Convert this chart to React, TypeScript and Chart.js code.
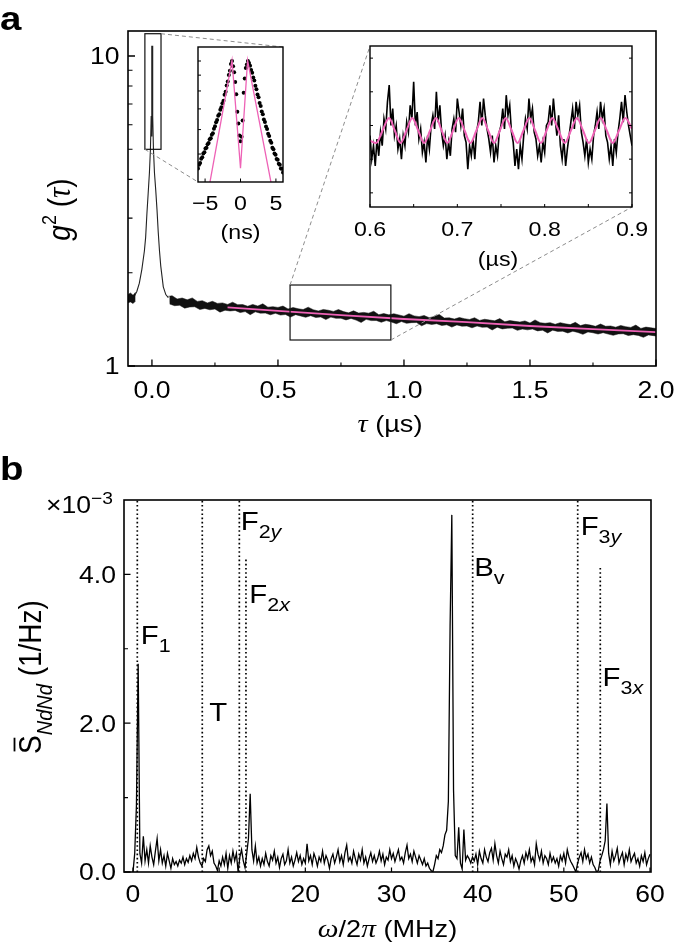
import React, { useEffect, useRef } from 'react';
import { Chart, registerables } from 'chart.js';

Chart.register(...registerables);

const SANS = '"Liberation Sans", Arial, Helvetica, sans-serif';
const SERIF = '"Liberation Serif", "Times New Roman", serif';
const SX = 1.13;
const PINK = '#ee62b6';
const GRAYDASH = '#8c8c8c';

// ---------------- panel a : main g2 trace ----------------
const MAIN_X_MAJOR = [0, 0.5, 1.0, 1.5, 2.0];
const MAIN_X_LABELS = ['0.0', '0.5', '1.0', '1.5', '2.0'];
const MAIN_X_MINOR = [0.25, 0.75, 1.25, 1.75];
const MAIN_Y_MAJOR = [1, 10];
const MAIN_Y_LABELS = ['1', '10'];
const MAIN_Y_MINOR = [2, 3, 4, 5, 6, 7, 8, 9];

// noise band of the measured trace: local maxima / minima read every 0.02 us
const BAND_T0 = 0.06;
const BAND_DT = 0.02;
const BAND_UPPER = [
  1.675, 1.685, 1.645, 1.657, 1.635, 1.658, 1.616, 1.624, 1.598, 1.617,
  1.592, 1.598, 1.580, 1.606, 1.577, 1.578, 1.559, 1.580, 1.561, 1.587,
  1.548, 1.554, 1.545, 1.561, 1.528, 1.544, 1.530, 1.521, 1.548, 1.519,
  1.505, 1.522, 1.513, 1.500, 1.521, 1.498, 1.484, 1.506, 1.482, 1.489,
  1.481, 1.502, 1.464, 1.476, 1.462, 1.474, 1.461, 1.448, 1.475, 1.451,
  1.443, 1.455, 1.432, 1.444, 1.466, 1.428, 1.430, 1.417, 1.434, 1.421,
  1.413, 1.431, 1.403, 1.415, 1.407, 1.399, 1.422, 1.389, 1.401, 1.393,
  1.386, 1.398, 1.376, 1.408, 1.380, 1.373, 1.380, 1.363, 1.380, 1.368,
  1.360, 1.383, 1.350, 1.363, 1.355, 1.343, 1.366, 1.343, 1.346, 1.334,
  1.351, 1.339, 1.332, 1.355, 1.322, 1.335, 1.328, 1.321,
];
const BAND_LOWER = [
  1.585, 1.565, 1.570, 1.537, 1.550, 1.553, 1.521, 1.534, 1.518, 1.527,
  1.492, 1.513, 1.505, 1.511, 1.487, 1.498, 1.464, 1.495, 1.481, 1.482,
  1.463, 1.479, 1.460, 1.466, 1.438, 1.464, 1.450, 1.436, 1.453, 1.434,
  1.440, 1.412, 1.438, 1.425, 1.426, 1.408, 1.424, 1.406, 1.382, 1.414,
  1.401, 1.402, 1.384, 1.401, 1.387, 1.369, 1.391, 1.373, 1.380, 1.381,
  1.348, 1.370, 1.362, 1.369, 1.351, 1.358, 1.335, 1.357, 1.344, 1.346,
  1.328, 1.346, 1.333, 1.335, 1.307, 1.334, 1.317, 1.324, 1.326, 1.303,
  1.316, 1.308, 1.316, 1.298, 1.305, 1.278, 1.305, 1.293, 1.295, 1.278,
  1.295, 1.283, 1.265, 1.288, 1.280, 1.268, 1.281, 1.268, 1.256, 1.269,
  1.271, 1.254, 1.262, 1.255, 1.237, 1.260, 1.253, 1.246,
];
const BAND_L_T = [-0.095, -0.085, -0.075, -0.065];
const BAND_L_UPPER = [1.7, 1.72, 1.69, 1.73];
const BAND_L_LOWER = [1.6, 1.61, 1.59, 1.62];

const SPIKE_T = [-0.07, -0.06, -0.05, -0.04, -0.03, -0.025, -0.02, -0.015, -0.01, -0.006, -0.003, -0.0013, 0,
  0.0013, 0.003, 0.006, 0.01, 0.015, 0.02, 0.025, 0.03, 0.035, 0.045, 0.055, 0.065];
const SPIKE_G = [1.68, 1.74, 1.85, 2.05, 2.35, 2.6, 3.1, 3.6, 4.2, 5.0, 6.4, 10.8, 5.5,
  10.8, 6.4, 5.0, 4.2, 3.7, 3.2, 2.7, 2.35, 2.1, 1.8, 1.7, 1.66];

const FIT_T = [0.3, 0.5, 0.75, 1.0, 1.25, 1.5, 1.75, 2.0];
const FIT_G = [1.545, 1.505, 1.46, 1.418, 1.385, 1.346, 1.315, 1.286];

const ZOOM1_T = [-0.028, 0.036];
const ZOOM1_G = [5.0, 11.8];
const ZOOM2_T = [0.548, 0.948];
const ZOOM2_G = [1.213, 1.825];

// ---------------- inset 1 (ns) ----------------
const IN1_X0 = -6;
const IN1_DX = 0.15;
const IN1_G = [
  4.49, 4.62, 4.68, 4.83, 4.88, 5.02, 5.07, 5.21, 5.24, 5.38,
  5.43, 5.58, 5.62, 5.77, 5.84, 6.04, 6.15, 6.34, 6.44, 6.65,
  6.73, 6.96, 7.08, 7.30, 7.44, 7.78, 7.95, 8.33, 8.58, 9.01,
  9.30, 9.78, 10.0, 9.62, 9.20, 8.55, 7.80, 6.85, 6.28, 5.74,
  5.50, 5.69, 6.42, 7.90, 8.78, 9.49, 9.74, 10.0, 9.86, 9.66,
  9.35, 9.16, 8.84, 8.65, 8.31, 8.11, 7.79, 7.63, 7.32, 7.15,
  6.87, 6.72, 6.47, 6.35, 6.14, 6.03, 5.82, 5.72, 5.52, 5.44,
  5.24, 5.18, 5.02, 4.97, 4.82, 4.79, 4.65, 4.62, 4.49, 4.48, 4.36,
];
const IN1_FIT_X = [-4.5, -1.2, 0, 1.0, 4.5];
const IN1_FIT_G = [3.84, 10.05, 4.5, 10.05, 3.84];
const IN1_X_TICKS = [-5, 0, 5];
const IN1_X_LABELS = ['\u22125', '0', '5'];
const IN1_Y_TICKS = [5, 6, 7, 8, 9, 10];

// ---------------- inset 2 (us) ----------------
const IN2_X0 = 0.6;
const IN2_DX = 0.002;
const IN2_G = [
  1.47, 1.40, 1.44, 1.38, 1.46, 1.41, 1.48, 1.44,
  1.52, 1.49, 1.57, 1.62, 1.50, 1.55, 1.47,
  1.50, 1.43, 1.46, 1.40, 1.47, 1.44, 1.51,
  1.48, 1.56, 1.52, 1.63, 1.50, 1.54, 1.46,
  1.49, 1.42, 1.45, 1.39, 1.47, 1.43, 1.50,
  1.53, 1.49, 1.60, 1.51, 1.56, 1.48,
  1.44, 1.47, 1.40, 1.45, 1.41, 1.49,
  1.52, 1.48, 1.58, 1.54, 1.50, 1.55, 1.47,
  1.45, 1.37, 1.44, 1.41, 1.46, 1.40, 1.48,
  1.51, 1.57, 1.50, 1.58, 1.53, 1.49,
  1.46, 1.42, 1.47, 1.39, 1.44, 1.41, 1.48,
  1.50, 1.55, 1.49, 1.59, 1.53, 1.56, 1.48,
  1.45, 1.38, 1.43, 1.37, 1.44, 1.40, 1.47,
  1.52, 1.49, 1.58, 1.52, 1.55, 1.48,
  1.46, 1.41, 1.44, 1.39, 1.45, 1.42, 1.50,
  1.51, 1.56, 1.50, 1.58, 1.52, 1.47, 1.53,
  1.44, 1.40, 1.46, 1.38, 1.43, 1.47,
  1.51, 1.55, 1.49, 1.57, 1.53, 1.56, 1.48,
  1.45, 1.41, 1.46, 1.39, 1.43, 1.40, 1.47,
  1.50, 1.54, 1.49, 1.57, 1.52, 1.55, 1.47,
  1.45, 1.40, 1.44, 1.38, 1.46, 1.42, 1.48,
  1.52, 1.57, 1.51, 1.59, 1.54, 1.50, 1.47, 1.44,
];
const IN2_FIT_X = [0.6, 0.607, 0.6144, 0.6218, 0.6284, 0.635, 0.6417, 0.6484, 0.6552, 0.662, 0.6688, 0.6756,
  0.6821, 0.6886, 0.6951, 0.7016, 0.7083, 0.715, 0.7218, 0.7286, 0.7353, 0.742, 0.7487, 0.7554, 0.7622,
  0.769, 0.7757, 0.7825, 0.7891, 0.7957, 0.8022, 0.8088, 0.8159, 0.823, 0.83, 0.8371, 0.8439, 0.8507,
  0.8575, 0.8642, 0.8711, 0.878, 0.8851, 0.8923, 0.9];
const IN2_FIT_G = [1.455, 1.448, 1.485, 1.522, 1.485, 1.448, 1.485, 1.522, 1.485, 1.448, 1.485, 1.522,
  1.485, 1.448, 1.485, 1.522, 1.485, 1.448, 1.485, 1.522, 1.485, 1.448, 1.485, 1.522, 1.485,
  1.448, 1.485, 1.522, 1.485, 1.448, 1.485, 1.522, 1.485, 1.448, 1.485, 1.522, 1.485, 1.448,
  1.485, 1.522, 1.485, 1.448, 1.485, 1.522, 1.49];
const IN2_X_TICKS = [0.6, 0.65, 0.7, 0.75, 0.8, 0.85, 0.9];
const IN2_X_LABELED = [0.6, 0.7, 0.8, 0.9];
const IN2_X_LABELS = ['0.6', '0.7', '0.8', '0.9'];
const IN2_Y_TICKS = [1.3, 1.4, 1.5, 1.6, 1.7];

// ---------------- panel b : spectrum ----------------
const SPEC_X0 = 0;
const SPEC_DX = 0.2;
const SPEC_Y = [
  0.00, 0.25, 0.90, 2.80, 0.25, 0.12, 0.48, 0.15, 0.30, 0.12,
  0.35, 0.20, 0.10, 0.28, 0.45, 0.15, 0.30, 0.12, 0.22, 0.08,
  0.25, 0.15, 0.05, 0.18, 0.10, 0.14, 0.08, 0.16, 0.12, 0.20,
  0.10, 0.18, 0.13, 0.22, 0.15, 0.25, 0.18, 0.33, 0.20, 0.12,
  0.08, 0.18, 0.14, 0.30, 0.35, 0.22, 0.28, 0.12, 0.08, 0.02,
  0.15, 0.08, 0.20, 0.10, 0.25, 0.05, 0.22, 0.12, 0.28, 0.15,
  0.25, 0.00, 0.20, 0.30, 0.15, 0.06, 0.25, 0.45, 1.05, 0.30,
  0.15, 0.35, 0.12, 0.20, 0.08,
  // 15.0 - 19.8
  0.18, 0.10, 0.25, 0.14, 0.08, 0.22, 0.16, 0.28, 0.12, 0.20, 0.06, 0.18, 0.24, 0.10, 0.15, 0.30, 0.12, 0.20, 0.08, 0.16, 0.26, 0.14, 0.22, 0.10, 0.18,
  // 20.0 - 24.8
  0.12, 0.38, 0.15, 0.22, 0.10, 0.25, 0.18, 0.08, 0.20, 0.14, 0.28, 0.12, 0.22, 0.16, 0.05, 0.18, 0.24, 0.12, 0.20, 0.30, 0.14, 0.22, 0.10, 0.26, 0.36,
  // 25.0 - 29.8
  0.15, 0.20, 0.12, 0.28, 0.18, 0.10, 0.24, 0.16, 0.30, 0.12, 0.20, 0.08, 0.18, 0.26, 0.14, 0.22, 0.12, 0.18, 0.28, 0.15, 0.24, 0.10, 0.20, 0.16, 0.30,
  // 30.0 - 34.8
  0.18, 0.25, 0.14, 0.22, 0.30, 0.16, 0.20, 0.12, 0.26, 0.36, 0.18, 0.24, 0.14, 0.28, 0.20, 0.12, 0.22, 0.16, 0.10, 0.18, 0.08, 0.12, 0.05, 0.02, 0.00,
  // 35.0 - 39.4
  0.10, 0.22, 0.18, 0.30, 0.26, 0.35, 0.50, 0.56, 0.95, 3.30, 4.80, 1.10, 0.22, 0.18, 0.60, 0.12, 0.04, 0.57, 0.16, 0.22, 0.18, 0.12, 0.20,
  // 39.6 - 44.6
  0.15, 0.24, 0.10, 0.28, 0.18, 0.12, 0.30, 0.20, 0.14, 0.26, 0.32, 0.16, 0.38, 0.22, 0.12, 0.28, 0.18, 0.10, 0.24, 0.20, 0.30, 0.14, 0.22, 0.08, 0.18, 0.12,
  // 44.8 - 50.8
  0.04, 0.15, 0.22, 0.12, 0.26, 0.18, 0.30, 0.14, 0.20, 0.10, 0.38, 0.24, 0.16, 0.28, 0.12, 0.22, 0.18, 0.10, 0.25, 0.14, 0.20, 0.12, 0.18, 0.08, 0.22, 0.15, 0.25, 0.12, 0.30, 0.20, 0.14,
  // 51.0 - 55.4
  0.10, 0.05, 0.00, 0.12, 0.20, 0.26, 0.14, 0.30, 0.18, 0.24, 0.12, 0.20, 0.10, 0.06, 0.00, 0.02, 0.15, 0.22, 0.30, 0.42, 0.92, 0.25, 0.10,
  // 55.6 - 60.0
  0.28, 0.15, 0.22, 0.32, 0.12, 0.20, 0.26, 0.10, 0.24, 0.16, 0.30, 0.14, 0.20, 0.25, 0.12, 0.18, 0.08, 0.22, 0.14, 0.26, 0.10, 0.18, 0.24,
];
const LINE_X = [0.5, 8.04, 12.34, 13.11, 39.42, 51.61, 54.23];
const LINE_TOP = [5, 5, 5, 4.2, 5, 5, 4.09];
const LABEL_MAIN = ['F', 'T', 'F', 'F', 'B', 'F', 'F'];
const LABEL_SUB_NUM = ['1', '', '2', '2', '', '3', '3'];
const LABEL_SUB_VAR = ['', '', 'y', 'x', 'v', 'y', 'x'];
const LABEL_X = [0.91, 8.85, 12.5, 13.5, 39.6, 51.95, 54.5];
const LABEL_Y = [3.19, 2.16, 4.72, 3.74, 4.10, 4.65, 2.62];
const B_X_TICKS = [0, 10, 20, 30, 40, 50, 60];
const B_X_LABELS = ['0', '10', '20', '30', '40', '50', '60'];
const B_Y_MAJOR = [0, 2, 4];
const B_Y_LABELS = ['0.0', '2.0', '4.0'];
const B_Y_MINOR = [1, 3];

// ---------------- helpers ----------------
const grid = (x0: number, dx: number, n: number) =>
  Array.from({ length: n }, (_, i) => +(x0 + i * dx).toFixed(5));
const xy = (xs: number[], ys: number[]) => xs.map((x, i) => ({ x, y: ys[i] }));

type Run = { t: string; size: number; fam?: string; style?: string; weight?: string; dy?: number };
const fontOf = (r: Run) => `${r.style || 'normal'} ${r.weight || 'normal'} ${r.size}px ${r.fam || SANS}`;

function drawRuns(ctx: any, runs: Run[], x: number, y: number, align: string, rotate = false) {
  ctx.save();
  ctx.translate(x, y);
  ctx.scale(SX, 1);
  if (rotate) ctx.rotate(-Math.PI / 2);
  ctx.textBaseline = 'alphabetic';
  ctx.textAlign = 'left';
  ctx.fillStyle = '#000';
  const ws = runs.map((r) => {
    ctx.font = fontOf(r);
    return ctx.measureText(r.t).width;
  });
  const total = ws.reduce((s, w) => s + w, 0);
  let cx = align === 'left' ? 0 : align === 'center' ? -total / 2 : -total;
  const starts: number[] = [];
  runs.forEach((r, i) => {
    ctx.font = fontOf(r);
    starts.push(cx);
    ctx.fillText(r.t, cx, r.dy || 0);
    cx += ws[i];
  });
  ctx.restore();
  return { ws, starts, total };
}

function label(ctx: any, t: string, x: number, yc: number, size: number, align: string) {
  drawRuns(ctx, [{ t, size }], x, yc + 0.358 * size, align);
}

function ticks(ctx: any, chart: any, axis: string, side: string, values: number[], len: number, lw: number) {
  const sc = chart.scales[axis];
  const a = chart.chartArea;
  ctx.save();
  ctx.strokeStyle = '#000';
  ctx.lineWidth = lw;
  ctx.beginPath();
  values.forEach((v) => {
    const p = sc.getPixelForValue(v);
    if (side === 'bottom') {
      ctx.moveTo(p, a.bottom);
      ctx.lineTo(p, a.bottom - len);
    } else if (side === 'left') {
      ctx.moveTo(a.left, p);
      ctx.lineTo(a.left + len, p);
    } else if (side === 'right') {
      ctx.moveTo(a.right, p);
      ctx.lineTo(a.right - len, p);
    }
  });
  ctx.stroke();
  ctx.restore();
}

function frame(ctx: any, chart: any, lw: number) {
  const a = chart.chartArea;
  ctx.save();
  ctx.strokeStyle = '#000';
  ctx.lineWidth = lw;
  ctx.strokeRect(a.left, a.top, a.right - a.left, a.bottom - a.top);
  ctx.restore();
}

const baseOptions = (pad: any, scales: any) => ({
  responsive: false,
  animation: false,
  devicePixelRatio: 1,
  events: [],
  layout: { padding: pad },
  plugins: { legend: { display: false }, tooltip: { enabled: false } },
  elements: { point: { radius: 0 }, line: { tension: 0 } },
  scales,
});

const whiteBg = {
  id: 'whiteBg',
  beforeDraw(chart: any) {
    const a = chart.chartArea;
    chart.ctx.save();
    chart.ctx.fillStyle = '#fff';
    chart.ctx.fillRect(a.left, a.top, a.right - a.left, a.bottom - a.top);
    chart.ctx.restore();
  },
};

// page geometry of canvases
const MAIN_BOX = { left: 0, top: 0, w: 675, h: 440 };
const IN1_BOX = { left: 168, top: 30, w: 130, h: 215 };
const IN2_BOX = { left: 340, top: 30, w: 320, h: 245 };
const B_BOX = { left: 0, top: 440, w: 675, h: 509 };

export default function App() {
  const mainRef = useRef<HTMLCanvasElement>(null);
  const in1Ref = useRef<HTMLCanvasElement>(null);
  const in2Ref = useRef<HTMLCanvasElement>(null);
  const bRef = useRef<HTMLCanvasElement>(null);

  useEffect(() => {
    const charts: any[] = [];

    // ---------- inset 1 ----------
    const in1X = grid(IN1_X0, IN1_DX, IN1_G.length);
    const in1 = new Chart(in1Ref.current as any, {
      type: 'line',
      data: {
        datasets: [
          {
            data: xy(in1X, IN1_G),
            showLine: false,
            pointRadius: 2.0,
            pointBorderWidth: 0,
            pointBackgroundColor: '#000',
            borderColor: '#000',
          },
          { data: xy(IN1_FIT_X, IN1_FIT_G), borderColor: PINK, borderWidth: 1.3, order: -1 },
        ],
      },
      options: baseOptions(
        { left: 30, right: 15, top: 17, bottom: 63 },
        {
          x: { type: 'linear', min: -6, max: 6, display: false },
          y: { type: 'logarithmic', min: 4.06, max: 11.1, display: false },
        }
      ) as any,
      plugins: [
        whiteBg,
        {
          id: 'in1Decor',
          afterDraw(chart: any) {
            const ctx = chart.ctx;
            const a = chart.chartArea;
            frame(ctx, chart, 1.4);
            ticks(ctx, chart, 'y', 'left', IN1_Y_TICKS, 3, 1);
            ticks(ctx, chart, 'x', 'bottom', IN1_X_TICKS, 3.5, 1);
            IN1_X_TICKS.forEach((v, i) =>
              label(ctx, IN1_X_LABELS[i], chart.scales.x.getPixelForValue(v), a.bottom + 21, 20.5, 'center')
            );
            label(ctx, '(ns)', (a.left + a.right) / 2, a.bottom + 49.5, 20.5, 'center');
          },
        },
      ],
    });
    charts.push(in1);

    // ---------- inset 2 ----------
    const in2X = grid(IN2_X0, IN2_DX, IN2_G.length);
    const in2 = new Chart(in2Ref.current as any, {
      type: 'line',
      data: {
        datasets: [
          { data: xy(in2X, IN2_G), borderColor: '#000', borderWidth: 1.6 },
          {
            data: xy(IN2_FIT_X, IN2_FIT_G),
            borderColor: PINK,
            borderWidth: 2,
            cubicInterpolationMode: 'monotone',
            order: -1,
          },
        ],
      },
      options: baseOptions(
        { left: 30, right: 28, top: 16, bottom: 68 },
        {
          x: { type: 'linear', min: 0.6, max: 0.9, display: false },
          y: { type: 'linear', min: 1.258, max: 1.736, display: false },
        }
      ) as any,
      plugins: [
        whiteBg,
        {
          id: 'in2Decor',
          afterDraw(chart: any) {
            const ctx = chart.ctx;
            const a = chart.chartArea;
            frame(ctx, chart, 1.4);
            ticks(ctx, chart, 'y', 'left', IN2_Y_TICKS, 3, 1);
            ticks(ctx, chart, 'y', 'right', IN2_Y_TICKS, 3, 1);
            ticks(ctx, chart, 'x', 'bottom', IN2_X_TICKS, 3, 1);
            IN2_X_LABELED.forEach((v, i) =>
              label(ctx, IN2_X_LABELS[i], chart.scales.x.getPixelForValue(v), a.bottom + 22, 20.5, 'center')
            );
            label(ctx, '(\u00b5s)', (a.left + a.right) / 2 - 3, a.bottom + 52, 20.5, 'center');
          },
        },
      ],
    });
    charts.push(in2);

    const pageRect = (c: any, box: any) => ({
      left: box.left + c.chartArea.left,
      right: box.left + c.chartArea.right,
      top: box.top + c.chartArea.top,
      bottom: box.top + c.chartArea.bottom,
    });

    // ---------- main panel a ----------
    const bandT = grid(BAND_T0, BAND_DT, BAND_UPPER.length);
    // minima are read half-way between the maxima
    const bandTLo = grid(BAND_T0 + BAND_DT / 2, BAND_DT, BAND_LOWER.length);
    const main = new Chart(mainRef.current as any, {
      type: 'line',
      data: {
        datasets: [
          { data: xy(bandT, BAND_UPPER), borderColor: '#111', borderWidth: 0.5, backgroundColor: '#111', fill: '+1' },
          { data: xy(bandTLo, BAND_LOWER), borderColor: '#111', borderWidth: 0.5, fill: false },
          { data: xy(BAND_L_T, BAND_L_UPPER), borderColor: '#111', borderWidth: 0.5, backgroundColor: '#111', fill: '+1' },
          { data: xy(BAND_L_T, BAND_L_LOWER), borderColor: '#111', borderWidth: 0.5, fill: false },
          { data: xy(SPIKE_T, SPIKE_G), borderColor: '#222', borderWidth: 1.1 },
          { data: xy(FIT_T, FIT_G), borderColor: PINK, borderWidth: 1.8, order: -1 },
        ],
      },
      options: baseOptions(
        { left: 128, right: 19, top: 31, bottom: 74 },
        {
          x: { type: 'linear', min: -0.095, max: 2.0, display: false },
          y: { type: 'logarithmic', min: 1, max: 12.04, display: false },
        }
      ) as any,
      plugins: [
        {
          id: 'mainDecor',
          afterDraw(chart: any) {
            const ctx = chart.ctx;
            const a = chart.chartArea;
            const xs = chart.scales.x;
            const ys = chart.scales.y;
            ctx.save();
            ctx.strokeStyle = '#111';
            ctx.lineWidth = 1.2;
            const box = (T: number[], G: number[]) => {
              const x0 = xs.getPixelForValue(T[0]);
              const x1 = xs.getPixelForValue(T[1]);
              const y0 = ys.getPixelForValue(G[0]);
              const y1 = ys.getPixelForValue(G[1]);
              ctx.strokeRect(x0, y1, x1 - x0, y0 - y1);
              return { x0, x1, y0, y1 };
            };
            const b1 = box(ZOOM1_T, ZOOM1_G);
            const b2 = box(ZOOM2_T, ZOOM2_G);
            ctx.restore();
            const r1 = pageRect(in1, IN1_BOX);
            const r2 = pageRect(in2, IN2_BOX);
            ctx.save();
            ctx.strokeStyle = GRAYDASH;
            ctx.lineWidth = 1;
            ctx.setLineDash([4, 3]);
            const seg = (x0: number, y0: number, x1: number, y1: number) => {
              ctx.beginPath();
              ctx.moveTo(x0, y0);
              ctx.lineTo(x1, y1);
              ctx.stroke();
            };
            seg(b1.x1, b1.y1, r1.right, r1.top);
            seg(b1.x0, b1.y0, r1.left, r1.bottom);
            seg(b2.x0, b2.y1, r2.left, r2.top);
            seg(b2.x1, b2.y0, r2.right, r2.bottom);
            ctx.restore();

            frame(ctx, chart, 1.6);
            ticks(ctx, chart, 'y', 'left', MAIN_Y_MAJOR, 7, 1.3);
            ticks(ctx, chart, 'y', 'left', MAIN_Y_MINOR, 4.5, 1.1);
            ticks(ctx, chart, 'x', 'bottom', MAIN_X_MAJOR, 6.5, 1.3);
            ticks(ctx, chart, 'x', 'bottom', MAIN_X_MINOR, 3.5, 1.1);
            MAIN_Y_MAJOR.forEach((v, i) => label(ctx, MAIN_Y_LABELS[i], a.left - 8.5, ys.getPixelForValue(v), 23.5, 'right'));
            MAIN_X_MAJOR.forEach((v, i) => label(ctx, MAIN_X_LABELS[i], xs.getPixelForValue(v), a.bottom + 24, 23.5, 'center'));

            drawRuns(
              ctx,
              [
                { t: '\u03c4', size: 25, fam: SERIF, style: 'italic' },
                { t: ' (\u00b5s)', size: 24 },
              ],
              (a.left + a.right) / 2 - 2,
              a.bottom + 65.5,
              'center'
            );
            drawRuns(
              ctx,
              [
                { t: 'g', size: 28, style: 'italic' },
                { t: '2', size: 18, dy: -12 },
                { t: ' (', size: 28 },
                { t: '\u03c4', size: 29, fam: SERIF, style: 'italic' },
                { t: ')', size: 28 },
              ],
              70,
              209.5,
              'center',
              true
            );
            drawRuns(ctx, [{ t: 'a', size: 34, weight: 'bold' }], 0, 30, 'left');
          },
        },
      ],
    });
    charts.push(main);

    // ---------- panel b ----------
    const specX = grid(SPEC_X0, SPEC_DX, SPEC_Y.length);
    const lineSets = LINE_X.map((x, i) => ({
      data: [
        { x, y: 0 },
        { x, y: LINE_TOP[i] },
      ],
      borderColor: '#000',
      borderWidth: 1.7,
      borderDash: [1.6, 2.6],
    }));
    const bChart = new Chart(bRef.current as any, {
      type: 'line',
      data: {
        datasets: [...lineSets, { data: xy(specX, SPEC_Y), borderColor: '#000', borderWidth: 1.3 }],
      },
      options: baseOptions(
        { left: 124, right: 24, top: 60, bottom: 77 },
        {
          x: { type: 'linear', min: -1.044, max: 60.116, display: false },
          y: { type: 'linear', min: 0, max: 5.0, display: false },
        }
      ) as any,
      plugins: [
        {
          id: 'bDecor',
          afterDraw(chart: any) {
            const ctx = chart.ctx;
            const a = chart.chartArea;
            const xs = chart.scales.x;
            const ys = chart.scales.y;
            frame(ctx, chart, 1.6);
            ticks(ctx, chart, 'y', 'left', B_Y_MAJOR, 6.5, 1.3);
            ticks(ctx, chart, 'y', 'left', B_Y_MINOR, 4, 1.1);
            ticks(ctx, chart, 'x', 'bottom', B_X_TICKS, 4.5, 1.2);
            B_Y_MAJOR.forEach((v, i) => label(ctx, B_Y_LABELS[i], a.left - 8, ys.getPixelForValue(v), 23.5, 'right'));
            B_X_TICKS.forEach((v, i) => label(ctx, B_X_LABELS[i], xs.getPixelForValue(v), a.bottom + 22, 23.5, 'center'));

            drawRuns(
              ctx,
              [
                { t: '\u00d710', size: 23.5 },
                { t: '\u22123', size: 17, dy: -9 },
              ],
              46,
              a.top + 13.4,
              'left'
            );

            LABEL_MAIN.forEach((m, i) => {
              const runs: Run[] = [{ t: m, size: 26 }];
              if (LABEL_SUB_NUM[i]) runs.push({ t: LABEL_SUB_NUM[i], size: 19, dy: 8 });
              if (LABEL_SUB_VAR[i])
                runs.push({ t: LABEL_SUB_VAR[i], size: 19, dy: 8, style: LABEL_SUB_VAR[i] === 'v' ? 'normal' : 'italic' });
              drawRuns(ctx, runs, xs.getPixelForValue(LABEL_X[i]), ys.getPixelForValue(LABEL_Y[i]) + 9.3, 'left');
            });

            drawRuns(
              ctx,
              [
                { t: '\u03c9', size: 26, fam: SERIF, style: 'italic' },
                { t: '/2', size: 24 },
                { t: '\u03c0', size: 26, fam: SERIF, style: 'italic' },
                { t: ' (MHz)', size: 24 },
              ],
              (a.left + a.right) / 2,
              a.bottom + 65,
              'center'
            );

            const res = drawRuns(
              ctx,
              [
                { t: 'S', size: 28 },
                { t: 'NdNd', size: 20, style: 'italic', dy: 10 },
                { t: ' (1/Hz)', size: 28 },
              ],
              41,
              237,
              'center',
              true
            );
            ctx.save();
            ctx.translate(41, 237);
            ctx.scale(SX, 1);
            ctx.rotate(-Math.PI / 2);
            ctx.fillStyle = '#000';
            ctx.fillRect(res.starts[0] + 2.5, -0.716 * 28 - 4.2, res.ws[0] - 5, 1.6);
            ctx.restore();

            drawRuns(ctx, [{ t: 'b', size: 34, weight: 'bold' }], 0, 40, 'left');
          },
        },
      ],
    });
    charts.push(bChart);

    return () => charts.forEach((c) => c.destroy());
  }, []);

  const pos = (b: any) => ({
    position: 'absolute' as const,
    left: b.left,
    top: b.top,
    width: b.w,
    height: b.h,
  });

  return (
    <div style={{ position: 'absolute', left: 0, top: 0, width: 675, height: 949, background: '#fff' }}>
      <canvas ref={mainRef} width={MAIN_BOX.w} height={MAIN_BOX.h} style={pos(MAIN_BOX)} />
      <canvas ref={bRef} width={B_BOX.w} height={B_BOX.h} style={pos(B_BOX)} />
      <canvas ref={in1Ref} width={IN1_BOX.w} height={IN1_BOX.h} style={pos(IN1_BOX)} />
      <canvas ref={in2Ref} width={IN2_BOX.w} height={IN2_BOX.h} style={pos(IN2_BOX)} />
    </div>
  );
}
